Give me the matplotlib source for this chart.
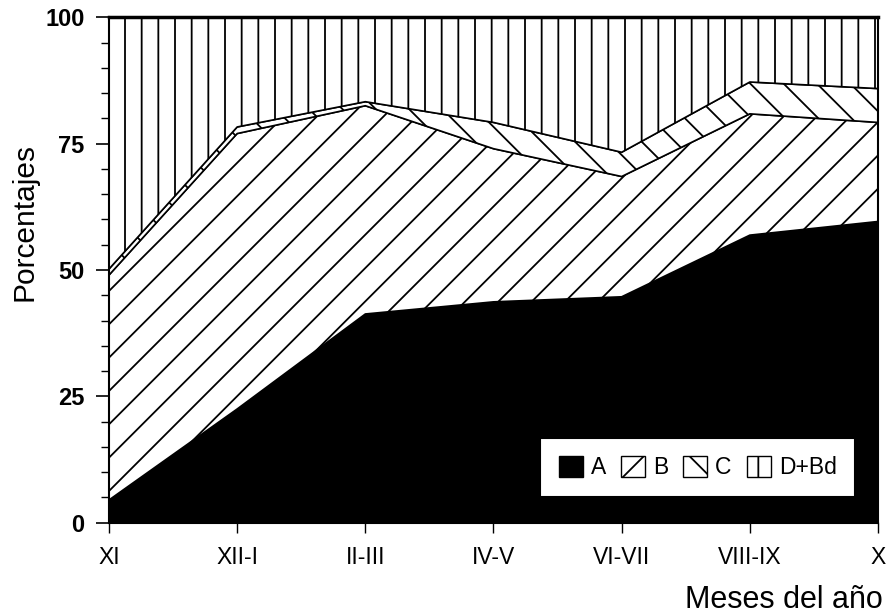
import numpy as np
import matplotlib
matplotlib.use("Agg")
import matplotlib.pyplot as plt
from matplotlib.ticker import MultipleLocator
from matplotlib.patches import Patch

# ---- data ----
categories = ["XI", "XII-I", "II-III", "IV-V", "VI-VII", "VIII-IX", "X"]
serie_A = [4.5, 22.5, 41.3, 43.7, 44.7, 56.9, 59.6]
serie_B = [44.5, 54.5, 41.2, 30.3, 23.8, 24.0, 19.6]
serie_C = [1.2, 1.3, 0.8, 5.2, 4.8, 6.3, 6.7]
serie_D = [49.8, 21.7, 16.7, 20.8, 26.7, 12.8, 14.1]
labels = ["A", "B", "C", "D+Bd"]
y_ticks = [0, 25, 50, 75, 100]

plt.rcParams["font.family"] = ["Liberation Sans", "DejaVu Sans"]
plt.rcParams["hatch.color"] = "black"
plt.rcParams["hatch.linewidth"] = 1.3

fig = plt.figure(figsize=(8.87, 6.16), dpi=100)
ax = fig.add_axes([109 / 887, 1 - 522.7 / 616, (878 - 109) / 887, (522.7 - 17.3) / 616])

x = np.arange(len(categories))
series = [serie_A, serie_B, serie_C, serie_D]
fills = ["black", "white", "white", "white"]
hatches = [None, "/", "\\", "|"]
bottom = np.zeros(len(categories))
for vals, fc, h in zip(series, fills, hatches):
    top = bottom + np.array(vals)
    ax.fill_between(x, bottom, top, facecolor=fc, edgecolor="black",
                    hatch=h, linewidth=1.2)
    bottom = top

ax.set_xlim(0, len(categories) - 1)
ax.set_ylim(0, 100)
ax.set_xticks(x)
ax.set_xticklabels(categories, fontsize=16.5)
ax.set_yticks(y_ticks)
ax.set_yticklabels([str(v) for v in y_ticks], fontsize=17, fontweight="bold")
ax.yaxis.set_minor_locator(MultipleLocator(5))
ax.tick_params(axis="y", which="major", direction="out", length=9.5, width=1.2, pad=8)
ax.tick_params(axis="y", which="minor", direction="out", length=6, width=1.0)
ax.tick_params(axis="x", which="major", direction="out", length=7, width=1.0, pad=10)

for s in ["left", "right", "bottom"]:
    ax.spines[s].set_linewidth(1.5)
ax.spines["top"].set_linewidth(2.5)
for s in ax.spines.values():
    s.set_zorder(5)

handles = [Patch(facecolor=fc, edgecolor="black", hatch=h, linewidth=1.0)
           for fc, h in zip(fills, hatches)]
leg = ax.legend(handles, labels, loc="lower right", bbox_to_anchor=(0.97, 0.05),
                borderaxespad=0, ncol=4, fontsize=16.5, handlelength=1.05,
                handleheight=1.0, handletextpad=0.35, columnspacing=0.65,
                borderpad=0.8, fancybox=False, framealpha=1, shadow=False)
leg.get_frame().set_edgecolor("black")
leg.get_frame().set_linewidth(1.5)

fig.text(25 / 887, 1 - 222 / 616, "Porcentajes", rotation=90, ha="center",
         va="center", fontsize=21.5)
fig.text(883 / 887, 1 - 600 / 616, "Meses del año", ha="right", va="center",
         fontsize=22)

fig.savefig("out.png", dpi=100)
